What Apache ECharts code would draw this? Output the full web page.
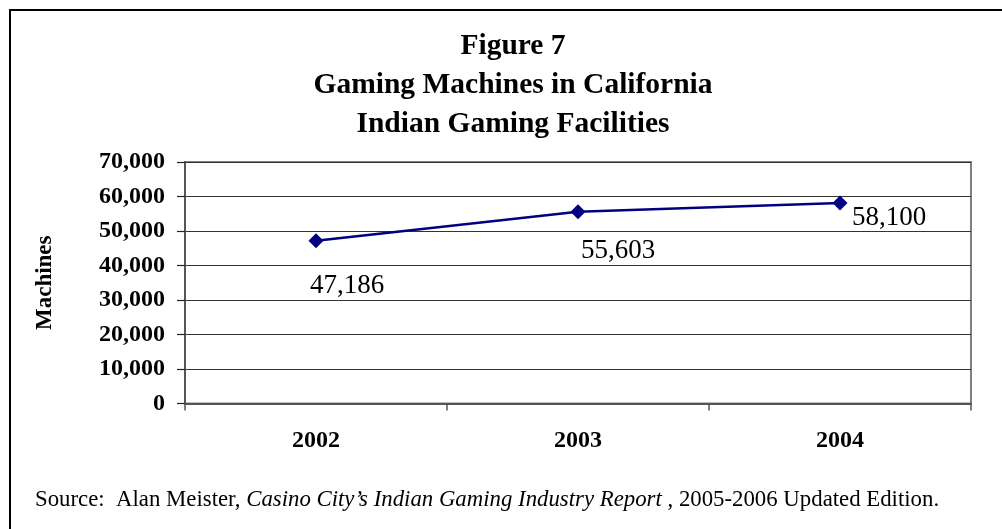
<!DOCTYPE html>
<html>
<head>
<meta charset="utf-8">
<script src="https://cdn.jsdelivr.net/npm/echarts@6/dist/echarts.min.js"></script>
<style>
html,body{margin:0;padding:0;background:#fff;}
#chart{width:1002px;height:529px;}
</style>
</head>
<body>
<div id="chart"></div>
<script>
var categories = ['2002', '2003', '2004'];
var machines = [47186, 55603, 58100];
var yTicks = [0, 10000, 20000, 30000, 40000, 50000, 60000, 70000];
var titleLines = ['Figure 7', 'Gaming Machines in California', 'Indian Gaming Facilities'];
var labelOffsets = [[31, 45], [40, 39], [49, 15]];

var serif = "'Liberation Serif', 'Times New Roman', serif";
function fmt(v){ return String(v).replace(/\B(?=(\d{3})+(?!\d))/g, ','); }

var chart = echarts.init(document.getElementById('chart'), null, {renderer:'canvas'});
chart.setOption({
  backgroundColor: '#ffffff',
  animation: false,
  grid: {left: 185, right: 31, top: 162, bottom: 125.5, show: true, borderColor: '#808080', borderWidth: 2, backgroundColor: 'transparent'},
  xAxis: {
    type: 'category',
    data: categories,
    boundaryGap: true,
    axisLine: {lineStyle: {color: '#555', width: 2}},
    axisTick: {show: true, length: 7, lineStyle: {color: '#555', width: 1.5}, alignWithLabel: false},
    axisLabel: {fontFamily: serif, fontWeight: 'bold', fontSize: 24, color: '#000', margin: 25}
  },
  yAxis: {
    type: 'value',
    min: yTicks[0],
    max: yTicks[yTicks.length - 1],
    interval: yTicks[1] - yTicks[0],
    name: 'Machines',
    nameLocation: 'middle',
    nameRotate: 90,
    nameGap: 128,
    nameTextStyle: {fontFamily: serif, fontWeight: 'bold', fontSize: 23, color: '#000'},
    axisLine: {show: true, lineStyle: {color: '#555', width: 2}},
    axisTick: {show: true, length: 8, lineStyle: {color: '#222', width: 1.2}},
    splitLine: {show: true, lineStyle: {color: '#333', width: 1}},
    axisLabel: {fontFamily: serif, fontWeight: 'bold', fontSize: 24, color: '#000', margin: 20, formatter: fmt}
  },
  series: [{
    type: 'line',
    data: machines.map(function(v, i){
      return {value: v, label: {offset: labelOffsets[i]}};
    }),
    symbol: 'diamond',
    symbolSize: 15,
    lineStyle: {color: '#000080', width: 2.5},
    itemStyle: {color: '#000080'},
    label: {
      show: true,
      position: 'inside',
      align: 'center',
      verticalAlign: 'middle',
      fontFamily: serif,
      fontSize: 27,
      color: '#000',
      formatter: function(p){ return fmt(p.value); }
    }
  }],
  graphic: [
    {type: 'rect', shape: {x: 10, y: 10, width: 1200, height: 700}, style: {fill: 'none', stroke: '#000', lineWidth: 2}, silent: true},
    {type: 'text', x: 513, y: 27, silent: true, style: {
      text: titleLines.join('\n'),
      align: 'center',
      verticalAlign: 'top',
      fontFamily: serif, fontWeight: 'bold', fontSize: 29.5, lineHeight: 39, fill: '#000'
    }},
    {type: 'text', left: 35, top: 489, silent: true, style: {
      text: '{n|Source:  Alan Meister, }{i|Casino City\u2019s Indian Gaming Industry Report}{n| , 2005-2006 Updated Edition.}',
      rich: {
        n: {fontFamily: serif, fontSize: 22.8, color: '#000'},
        i: {fontFamily: serif, fontSize: 22.8, fontStyle: 'italic', color: '#000'}
      }
    }}
  ]
});
</script>
</body>
</html>
